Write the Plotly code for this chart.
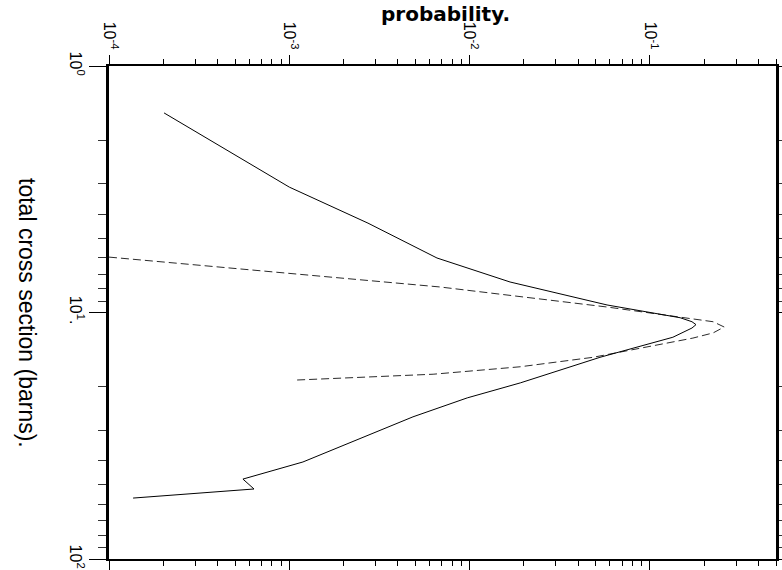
import numpy as np
import plotly.graph_objects as go

# Probability vs. total cross section (barns), drawn with probability across the top
# and cross section running down the left side.

# Solid curve
xs_solid = [1.55, 3.10, 4.34, 6.01, 7.52, 9.32, 10.5, 10.9, 11.2, 11.56, 12.6,
            15.2, 19.3, 22.2, 26.5, 40.4, 47.4, 52.0, 56.6]
prob_solid = [2.02e-4, 1.0e-3, 2.73e-3, 6.59e-3, 1.675e-2, 5.78e-2, 0.147, 0.171,
              0.180, 0.171, 0.134, 5.28e-2, 1.91e-2, 9.7e-3, 4.85e-3, 1.19e-3,
              5.53e-4, 6.37e-4, 1.36e-4]

# Dashed curve
xs_dashed = [5.96, 7.88, 9.50, 10.9, 11.45, 12.1, 12.7, 15.2, 16.6, 17.8, 18.8]
prob_dashed = [1.0e-4, 6.86e-3, 5.78e-2, 0.224, 0.258, 0.224, 0.173, 4.83e-2,
               1.91e-2, 6.27e-3, 1.08e-3]

# Axis ticks
prob_ticks = [1e-4, 1e-3, 1e-2, 1e-1]
prob_ticktext = ["10<sup>-4</sup>", "10<sup>-3</sup>", "10<sup>-2</sup>", "10<sup>-1</sup>"]
prob_minor = [m * 10.0 ** k for k in (-4, -3, -2) for m in range(2, 10)] + [0.2, 0.3, 0.4, 0.5]
xs_ticks = [1, 10, 100]
xs_ticktext = ["10<sup>0</sup>", "10<sup>1</sup>.", "10<sup>2</sup>"]
xs_minor = [m * 10.0 ** k for k in (0, 1) for m in range(2, 10)]

fig = go.Figure()
fig.add_trace(go.Scatter(x=prob_dashed, y=xs_dashed, mode="lines",
                         line=dict(color="#2a2a2a", width=1, dash="8px,4px"),
                         showlegend=False, hoverinfo="skip"))
fig.add_trace(go.Scatter(x=prob_solid, y=xs_solid, mode="lines",
                         line=dict(color="black", width=1),
                         showlegend=False, hoverinfo="skip"))

tick_font = dict(family="Liberation Sans, Arial, sans-serif", size=16, color="black")

fig.update_xaxes(
    type="log", range=[-4, np.log10(0.5)], side="top", automargin=False,
    showgrid=False, zeroline=False,
    showline=True, linecolor="black", linewidth=2, mirror="allticks",
    ticks="outside", ticklen=9, tickwidth=1, tickcolor="black",
    tickmode="array", tickvals=prob_ticks, ticktext=prob_ticktext,
    tickangle=90, tickfont=tick_font,
    minor=dict(tickmode="array", tickvals=prob_minor, ticks="outside",
               ticklen=5, tickwidth=1, tickcolor="black", showgrid=False),
)
fig.update_yaxes(
    type="log", range=[2, 0], automargin=False,
    showgrid=False, zeroline=False,
    showline=True, linecolor="black", linewidth=3, mirror="allticks",
    ticks="outside", ticklen=17, tickwidth=1, tickcolor="black",
    tickmode="array", tickvals=xs_ticks, ticktext=xs_ticktext,
    tickangle=90, tickfont=tick_font,
    minor=dict(tickmode="array", tickvals=xs_minor, ticks="outside",
               ticklen=8, tickwidth=1, tickcolor="#333333", showgrid=False),
)

fig.add_annotation(text="probability.", xref="paper", yref="paper",
                   x=0.505, y=1.106, xanchor="center", yanchor="middle",
                   showarrow=False,
                   font=dict(family="DejaVu Sans", size=20, color="black", weight="bold"))
fig.add_annotation(text="total cross section (barns).", xref="paper", yref="paper",
                   x=-0.123, y=0.499, xanchor="center", yanchor="middle",
                   textangle=90, showarrow=False,
                   font=dict(family="Liberation Sans, Arial, sans-serif", size=23, color="black"))

fig.update_layout(
    width=782, height=570,
    margin=dict(l=109, r=6, t=66, b=11, autoexpand=False),
    paper_bgcolor="white", plot_bgcolor="white",
)

fig.write_html("out.html")
